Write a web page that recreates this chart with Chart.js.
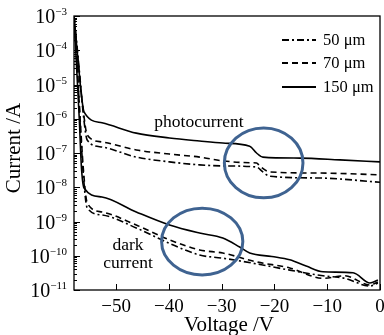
<!DOCTYPE html>
<html>
<head>
<meta charset="utf-8">
<script src="https://cdn.jsdelivr.net/npm/chart.js@4.4.0/dist/chart.umd.min.js"></script>
<style>
  body { margin: 0; background: #fff; }
  #wrap { width: 384px; height: 335px; }
</style>
</head>
<body>
<div id="wrap"><canvas id="chart" width="384" height="335"></canvas></div>
<script>
// values (voltage in V, current in A)
const photo150_V = [-58, -57.6, -57.1, -56.6, -56.1, -52.7, -46.2, -39.9, -34.2, -29.8, -24.7, -23.4, -22.2, -15.2, -7.6, 0]
const photo150_I = [1e-3, 2e-4, 3e-5, 5e-6, 1.58e-6, 7.6e-7, 3.8e-7, 2.75e-7, 2.24e-7, 1.95e-7, 1.58e-7, 1.0e-7, 7.6e-8, 7.1e-8, 6.3e-8, 5.5e-8]

const photo70_V = [-58, -57.4, -56.8, -56.2, -55.5, -52.7, -46.2, -39.9, -34.2, -29.8, -24.7, -23.4, -22.8, -20.9, -11.4, 0]
const photo70_I = [1e-3, 1e-4, 1e-5, 1.5e-6, 3.4e-7, 2.1e-7, 1.23e-7, 9.3e-8, 7.6e-8, 5.9e-8, 5.2e-8, 5.1e-8, 4.2e-8, 2.8e-8, 2.6e-8, 2.3e-8]

const photo50_V = [-58, -57.4, -56.8, -56.2, -55.5, -52.7, -46.2, -39.9, -34.2, -29.8, -23.4, -22.2, -20.9, -11.4, 0]
const photo50_I = [1e-3, 1.2e-4, 1.2e-5, 1.2e-6, 2.4e-7, 1.5e-7, 7.6e-8, 5.5e-8, 4.5e-8, 4.2e-8, 3.9e-8, 2.8e-8, 2.1e-8, 1.86e-8, 1.4e-8]

const dark150_V = [-58, -57.5, -57.0, -56.6, -56.1, -52.7, -46.2, -39.9, -34.2, -29.8, -26.6, -24.7, -20.5, -17.1, -14.0, -10.8, -5.1, -1.9, -0.4]
const dark150_I = [1e-3, 3e-5, 1e-6, 4e-8, 9.5e-9, 5.2e-9, 1.9e-9, 7.9e-10, 4.6e-10, 3.3e-10, 1.8e-10, 1.2e-10, 9.5e-11, 7.6e-11, 5.0e-11, 3.4e-11, 3.2e-11, 1.6e-11, 1.95e-11]

const dark70_V = [-58, -57.4, -56.8, -56.2, -55.5, -52.7, -46.2, -39.9, -34.2, -29.8, -23.4, -17.1, -10.8, -6.7, -1.9, -0.4]
const dark70_I = [1e-3, 3e-5, 8e-7, 3e-8, 3.5e-9, 1.9e-9, 7.9e-10, 2.9e-10, 1.48e-10, 1.2e-10, 6.6e-11, 4.4e-11, 2.2e-11, 2.6e-11, 1.4e-11, 1.7e-11]

const dark50_V = [-58, -57.3, -56.8, -56.2, -55.5, -52.7, -46.2, -39.9, -34.2, -29.8, -23.4, -17.1, -10.8, -6.7, -1.9, -0.4]
const dark50_I = [1e-3, 2e-5, 6e-7, 2e-8, 2.5e-9, 1.55e-9, 6.5e-10, 2.3e-10, 1.05e-10, 8.5e-11, 5.8e-11, 3.8e-11, 2.6e-11, 2.2e-11, 1.3e-11, 1.6e-11]

const xTicks = [-50, -40, -30, -20, -10, 0]
const yExponents = [-11, -10, -9, -8, -7, -6, -5, -4, -3]
const legendLabels = ['50 μm', '70 μm', '150 μm']

// highlighted regions: [vMin, vMax, iMin, iMax]
const ringPhoto = [-29.5, -14.6, 4.9e-9, 5.4e-7]
const ringDark = [-41.4, -26.0, 2.75e-11, 2.45e-9]

const DASH_50 = [7, 3, 2, 3]
const DASH_70 = [6, 4]
const DASH_150 = []

function pts(V, I) {
    return V.map((v, i) => ({ x: v, y: I[i] }))
}

function series(V, I, dash) {
    return {
        data: pts(V, I),
        borderColor: '#000',
        borderWidth: 1.6,
        borderDash: dash,
        pointRadius: 0,
        fill: false,
        cubicInterpolationMode: 'monotone'
    }
}

const SERIF = '"Liberation Serif", "DejaVu Serif", serif'

// axes box, inward ticks, y labels with exponents, text and rings
const decor = {
    id: 'decor',
    afterDatasetsDraw(chart) {
        const ctx = chart.ctx
        const a = chart.chartArea
        const xs = chart.scales.x
        const ys = chart.scales.y
        ctx.save()

        // rings
        ctx.strokeStyle = '#3f6391'
        ctx.lineWidth = 3
        for (const r of [ringPhoto, ringDark]) {
            const x0 = xs.getPixelForValue(r[0]), x1 = xs.getPixelForValue(r[1])
            const y0 = ys.getPixelForValue(r[3]), y1 = ys.getPixelForValue(r[2])
            ctx.beginPath()
            ctx.ellipse((x0 + x1) / 2, (y0 + y1) / 2, (x1 - x0) / 2, (y1 - y0) / 2, 0, 0, Math.PI * 2)
            ctx.stroke()
        }

        // box
        ctx.strokeStyle = '#000'
        ctx.lineWidth = 1.3
        ctx.strokeRect(a.left, a.top, a.right - a.left, a.bottom - a.top)

        // x ticks
        ctx.lineWidth = 1
        ctx.beginPath()
        for (const t of xTicks) {
            const px = Math.round(xs.getPixelForValue(t)) + 0.5
            ctx.moveTo(px, a.bottom)
            ctx.lineTo(px, a.bottom - 6)
        }
        // y ticks
        for (const e of yExponents) {
            const py = Math.round(ys.getPixelForValue(Math.pow(10, e))) + 0.5
            ctx.moveTo(a.left, py)
            ctx.lineTo(a.left + 6, py)
            if (e < -3) {
                for (let k = 2; k < 10; k++) {
                    const q = Math.round(ys.getPixelForValue(k * Math.pow(10, e))) + 0.5
                    ctx.moveTo(a.left, q)
                    ctx.lineTo(a.left + 3, q)
                }
            }
        }
        ctx.stroke()

        // y labels
        ctx.fillStyle = '#000'
        ctx.textBaseline = 'alphabetic'
        for (const e of yExponents) {
            const py = ys.getPixelForValue(Math.pow(10, e))
            const ex = '\u2212' + Math.abs(e)
            ctx.font = '11px ' + SERIF
            const ew = ctx.measureText(ex).width
            ctx.textAlign = 'left'
            ctx.fillText(ex, 67 - ew, py - 1)
            ctx.font = '20px ' + SERIF
            ctx.textAlign = 'right'
            ctx.fillText('10', 67 - ew, py + 7)
        }

        // axis titles
        ctx.font = '21px ' + SERIF
        ctx.textAlign = 'center'
        ctx.textBaseline = 'middle'
        ctx.fillText('Voltage /V', 229, 325)
        ctx.save()
        ctx.translate(14, 148)
        ctx.rotate(-Math.PI / 2)
        ctx.fillText('Current /A', 0, 0)
        ctx.restore()

        // curve labels
        ctx.font = '17.5px ' + SERIF
        ctx.fillText('photocurrent', 199, 122)
        ctx.fillText('dark', 128, 245)
        ctx.fillText('current', 128, 263)

        // legend
        const dashes = [DASH_50, DASH_70, DASH_150]
        const rows = [40, 63, 87]
        ctx.lineWidth = 2
        ctx.textAlign = 'left'
        ctx.font = '16.5px ' + SERIF
        for (let i = 0; i < 3; i++) {
            ctx.setLineDash(dashes[i])
            ctx.beginPath()
            ctx.moveTo(282, rows[i])
            ctx.lineTo(316, rows[i])
            ctx.stroke()
            ctx.setLineDash([])
            ctx.fillText(legendLabels[i], 323, rows[i] + 1)
        }
        ctx.restore()
    }
}

new Chart(document.getElementById('chart'), {
    type: 'line',
    data: {
        datasets: [
            series(photo50_V, photo50_I, DASH_50),
            series(photo70_V, photo70_I, DASH_70),
            series(photo150_V, photo150_I, DASH_150),
            series(dark50_V, dark50_I, DASH_50),
            series(dark70_V, dark70_I, DASH_70),
            series(dark150_V, dark150_I, DASH_150)
        ]
    },
    options: {
        responsive: false,
        animation: false,
        layout: { padding: { left: 0, top: 16, right: 4, bottom: 0 } },
        plugins: { legend: { display: false }, tooltip: { enabled: false } },
        scales: {
            x: {
                type: 'linear',
                min: -58,
                max: 0,
                grid: { display: false, drawTicks: false },
                border: { display: false },
                afterBuildTicks(scale) { scale.ticks = xTicks.map(v => ({ value: v })) },
                afterFit(scale) {
                    scale.height = 45
                    scale.paddingLeft = 0
                    scale.paddingRight = 0
                },
                ticks: {
                    color: '#000',
                    padding: 6,
                    maxRotation: 0,
                    font: { family: SERIF, size: 19 },
                    callback: v => (v < 0 ? '\u2212' + Math.abs(v) : '' + v)
                }
            },
            y: {
                type: 'logarithmic',
                min: 1e-11,
                max: 1e-3,
                grid: { display: false, drawTicks: false },
                border: { display: false },
                ticks: { display: false },
                afterFit(scale) { scale.width = 74 }
            }
        }
    },
    plugins: [decor]
})
</script>
</body>
</html>
